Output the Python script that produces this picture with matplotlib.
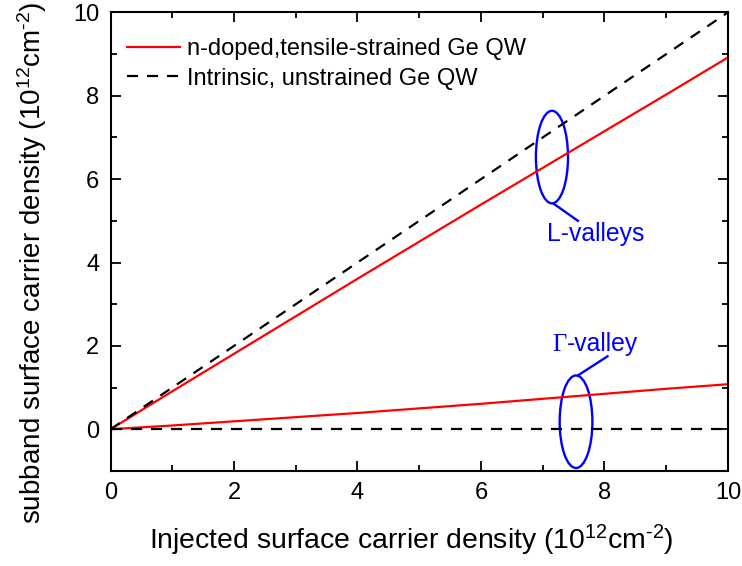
import numpy as np
import matplotlib.pyplot as plt
from matplotlib.patches import Ellipse
from matplotlib.ticker import MultipleLocator

plt.rcParams["font.family"] = ["Liberation Sans", "DejaVu Sans"]
plt.rcParams["mathtext.fontset"] = "custom"
plt.rcParams["mathtext.rm"] = "Liberation Sans"
plt.rcParams["mathtext.it"] = "Liberation Sans:italic"

# injected density (10^12 cm^-2)
injected = [0, 1, 2, 3, 4, 5, 6, 7, 8, 9, 10]
# n-doped, tensile-strained Ge QW
doped_L = [0, 0.91, 1.81, 2.71, 3.61, 4.50, 5.39, 6.27, 7.15, 8.03, 8.92]
doped_G = [0, 0.09, 0.19, 0.29, 0.39, 0.50, 0.61, 0.73, 0.85, 0.97, 1.08]
# intrinsic, unstrained Ge QW
intr_L = [0, 1, 2, 3, 4, 5, 6, 7, 8, 9, 10]
intr_G = [0, 0, 0, 0, 0, 0, 0, 0, 0, 0, 0]

fig = plt.figure(figsize=(7.42, 5.66), dpi=100)
ax = fig.add_axes([0.149, 0.168, 0.832, 0.810])

ax.plot(injected, doped_L, color="red", lw=1.6, label="n-doped,tensile-strained Ge QW")
ax.plot(injected, intr_L, color="black", lw=1.6, ls=(0, (5, 4)), label="Intrinsic, unstrained Ge QW")
ax.plot(injected, doped_G, color="red", lw=1.6)
ax.plot(injected, intr_G, color="black", lw=1.6, ls=(0, (5, 4)))

ax.set_xlim(0, 10)
ax.set_ylim(-1, 10)
ax.xaxis.set_major_locator(MultipleLocator(2))
ax.xaxis.set_minor_locator(MultipleLocator(1))
ax.yaxis.set_major_locator(MultipleLocator(2))
ax.yaxis.set_minor_locator(MultipleLocator(1))
ax.tick_params(which="both", direction="in", top=True, right=True, width=1.3)
ax.tick_params(which="major", length=7, labelsize=17, pad=8)
ax.tick_params(which="minor", length=4)
for s in ax.spines.values():
    s.set_linewidth(1.5)

unit = "(10$^{\\mathregular{12}}$cm$^{\\mathregular{\u2010}2}$)"
ax.set_xlabel("Injected surface carrier density " + unit, fontsize=20.4)
ax.set_ylabel("subband surface carrier density " + unit, fontsize=20)
ax.xaxis.set_label_coords(0.487, -0.113)
ax.yaxis.set_label_coords(-0.100, 0.453)

# ellipses + annotations
ax.add_patch(Ellipse((7.15, 6.53), 0.52, 2.22, fill=False, ec="blue", lw=1.7))
ax.plot([7.17, 7.57], [5.42, 5.0], color="blue", lw=1.7)
ax.text(7.07, 4.68, "L-valleys", color="blue", fontsize=17.8, va="center")

ax.add_patch(Ellipse((7.54, 0.18), 0.53, 2.22, fill=False, ec="blue", lw=1.7))
ax.plot([7.57, 8.05], [1.29, 1.75], color="blue", lw=1.7)
t1 = ax.text(7.16, 2.03, "Γ", color="blue", fontsize=17.8, va="center",
             family=["Liberation Serif", "DejaVu Serif"])
ax.annotate("-valley", xy=(1, 0), xycoords=t1, va="bottom", ha="left",
            color="blue", fontsize=17.8)

ax.legend(loc="upper left", fontsize=17, frameon=False, handlelength=2.25,
          handletextpad=0.3, labelspacing=0.32, borderaxespad=0.3,
          bbox_to_anchor=(0.0, 0.98))

fig.savefig("out.png", dpi=100)
